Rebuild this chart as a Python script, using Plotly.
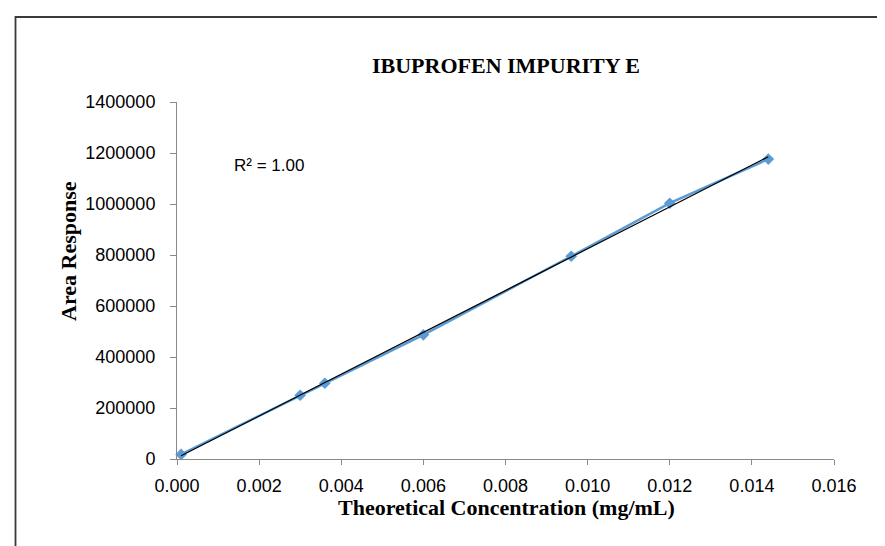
import numpy as np
import plotly.graph_objects as go

# Data
concentration = [0.0001, 0.0030, 0.0036, 0.0060, 0.0096, 0.0120, 0.0144]
area_response = [18000, 250000, 297000, 487000, 795000, 1003000, 1176000]

x_ticks = [0.000, 0.002, 0.004, 0.006, 0.008, 0.010, 0.012, 0.014, 0.016]
y_ticks = [0, 200000, 400000, 600000, 800000, 1000000, 1200000, 1400000]

title_text = "IBUPROFEN IMPURITY E"
x_title = "Theoretical Concentration (mg/mL)"
y_title = "Area Response"
r2_text = "R² = 1.00"

# Linear trendline from data
xa = np.array(concentration)
ya = np.array(area_response)
slope, intercept = np.polyfit(xa, ya, 1)
trend_x = [xa.min(), xa.max()]
trend_y = [slope * v + intercept for v in trend_x]

# page has an 8px body margin; compensate
OFF = 8
W, H = 885 - OFF, 546 - OFF
L, R, T, B = 177 - OFF, 51, 102 - OFF, 87
pw = W - L - R
ph = H - T - B

def px_x(p):
    return (p - OFF - L) / pw

def px_y(p):
    return (H - B - (p - OFF)) / ph

fig = go.Figure()
fig.add_trace(go.Scatter(
    x=concentration, y=area_response, mode="lines+markers",
    line=dict(color="#5B9BD5", width=2.5),
    marker=dict(symbol="diamond", size=9, color="#5B9BD5"),
    showlegend=False, cliponaxis=False,
))
fig.add_trace(go.Scatter(
    x=trend_x, y=trend_y, mode="lines",
    line=dict(color="#000000", width=1.2),
    showlegend=False,
))

axis_font = dict(family="Liberation Sans, Arial, sans-serif", size=18, color="#000000")
serif_bold = dict(family="Liberation Serif, Times New Roman, serif", size=22, color="#000000")

fig.update_layout(
    width=W, height=H,
    margin=dict(l=L, r=R, t=T, b=B),
    paper_bgcolor="white", plot_bgcolor="white",
    title=dict(text="<b>" + title_text + "</b>", x=(506 - OFF) / W, xanchor="center",
               y=1 - (65 - OFF) / H, yanchor="middle", yref="container",
               font=dict(family="Liberation Serif, Times New Roman, serif", size=22, color="#000000")),
    xaxis=dict(range=[0, 0.016], tickvals=x_ticks, ticktext=[f"{v:.3f}" for v in x_ticks],
               showgrid=False, zeroline=False, showline=True, linecolor="#898989", linewidth=1,
               ticks="outside", ticklen=5, tickcolor="#898989", tickfont=axis_font,
               ticklabelstandoff=5),
    yaxis=dict(range=[0, 1400000], tickvals=y_ticks, ticktext=[str(v) for v in y_ticks],
               showgrid=False, zeroline=False, showline=True, linecolor="#898989", linewidth=1,
               ticks="outside", ticklen=6, tickcolor="#898989", tickfont=axis_font,
               ticklabelstandoff=11),
    annotations=[
        dict(text="<b>" + x_title + "</b>", xref="paper", yref="paper",
             x=px_x(506), y=px_y(507), xanchor="center", yanchor="middle",
             showarrow=False, font=serif_bold),
        dict(text="<b>" + y_title + "</b>", xref="paper", yref="paper",
             x=px_x(68), y=px_y(251), xanchor="center", yanchor="middle",
             textangle=-90, showarrow=False, font=serif_bold),
        dict(text=r2_text, xref="paper", yref="paper",
             x=px_x(232), y=px_y(165), xanchor="left", yanchor="middle",
             showarrow=False, font=dict(family="Liberation Sans, Arial, sans-serif", size=17, color="#000000")),
    ],
    shapes=[
        dict(type="rect", xref="paper", yref="paper",
             x0=px_x(15.5), y0=px_y(560), x1=px_x(900), y1=px_y(17),
             line=dict(color="#3a3a3a", width=1.8), layer="below"),
    ],
)

fig.write_html("out.html")
